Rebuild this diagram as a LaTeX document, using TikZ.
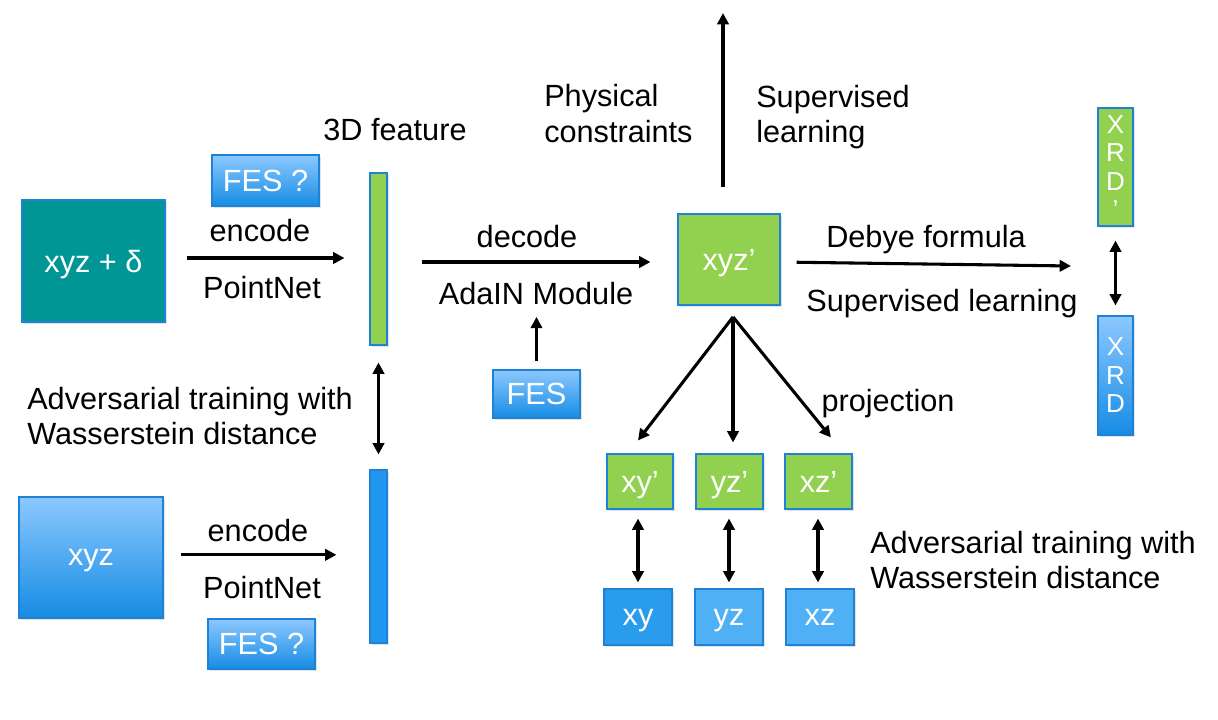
\documentclass[tikz,border=0pt]{standalone}
\usepackage{fontspec}
\setmainfont{Liberation Sans}
\usetikzlibrary{arrows.meta,shadows}
\definecolor{tealbox}{RGB}{0,150,150}
\definecolor{featgreen}{RGB}{146,208,80}
\definecolor{bluetop}{RGB}{140,200,255}
\definecolor{bluebot}{RGB}{22,140,228}
\definecolor{barblue}{RGB}{33,150,240}
\definecolor{solidblue}{RGB}{42,156,236}
\definecolor{lightblue}{RGB}{80,176,245}
\definecolor{boxedge}{RGB}{30,130,215}
\begin{document}
\begin{tikzpicture}[x=0.75pt,y=-0.75pt,
  box/.style={draw=boxedge, line width=0.8pt, inner sep=0pt, text=white, text depth=0pt,
    font=\fontsize{23}{26}\selectfont,
    drop shadow={shadow xshift=1.2pt,shadow yshift=-1.5pt,opacity=0.22}},
  grad/.style={box, top color=bluetop, bottom color=bluebot},
  greenbox/.style={box, fill=featgreen},
  sz/.style 2 args={minimum width=#1*0.75pt, minimum height=#2*0.75pt},
  vtext/.style={align=center, font=\fontsize{19.5}{21.4}\selectfont},
  lbl/.style={font=\fontsize{23}{26.5}\selectfont, inner sep=0pt},
  arr/.style={-{Triangle[length=8.5pt,width=8.5pt]}, line width=2.3pt},
  darr/.style={{Triangle[length=8.5pt,width=8.5pt]}-{Triangle[length=8.5pt,width=8.5pt]}, line width=2.3pt}
]
\useasboundingbox (0,0) rectangle (1218,720);

% boxes
\node[box, fill=tealbox, sz={143}{122}] (src) at (93.5,261) {xyz + δ};
\node[grad, sz={107}{51}] (fes1) at (265.5,180.5) {FES ?};
\node[greenbox, sz={17}{172}] (feat1) at (378.5,259) {};
\node[box, fill=barblue, sz={17}{173}] (feat2) at (378.5,556.5) {};
\node[grad, sz={144}{121}] (real) at (91,557.5) {xyz};
\node[grad, sz={107}{50}] (fes2) at (261.5,644) {FES ?};
\node[grad, sz={87}{48}] (fes3) at (536.5,394) {FES};
\node[greenbox, sz={102}{91}] (gen) at (729,259.5) {xyz’};
\node[greenbox, sz={35}{118}, vtext] (xrdp) at (1115.5,167) {X\\R\\D\\’};
\node[grad, sz={35}{119}, vtext] (xrd) at (1115.5,375.5) {X\\R\\D};
\node[greenbox, sz={66}{55}] (xyp) at (640,481.5) {xy’};
\node[greenbox, sz={67}{55}] (yzp) at (729.5,481.5) {yz’};
\node[greenbox, sz={67}{55}] (xzp) at (818.5,481.5) {xz’};
\node[box, fill=solidblue, sz={68}{56}] (xy) at (638,617) {xy};
\node[box, fill=lightblue, sz={68}{56}] (yz) at (729,617) {yz};
\node[box, fill=lightblue, sz={68}{56}] (xz) at (820,617) {xz};

% labels
\node[lbl] (feat) at (395,130) {3D feature};
\node[lbl] (enc1) at (260,231) {encode};
\node[lbl] (pn1) at (262,288) {PointNet};
\node[lbl] (enc2) at (258,531) {encode};
\node[lbl] (pn2) at (262,588) {PointNet};
\node[lbl, align=left, anchor=west] (adv1) at (27,416) {Adversarial training with\\Wasserstein distance};
\node[lbl] (dec) at (527,237) {decode};
\node[lbl] (adain) at (536,294) {AdaIN Module};
\node[lbl, align=left, anchor=west] (phys) at (544,113.5) {Physical\\constraints};
\node[lbl, align=left, anchor=west] (sup1) at (756,117) {Supervised\\learning};
\node[lbl] (debye) at (926,240) {Debye formula};
\node[lbl] (sup2) at (942,304) {Supervised learning};
\node[lbl] (proj) at (888,404) {projection};
\node[lbl, align=left, anchor=west] (adv2) at (870,560) {Adversarial training with\\Wasserstein distance};

% free ends
\coordinate (topEnd) at (723,13);
\coordinate (debyeEnd) at (1071,266);
\coordinate (projS) at (733,317);

% connectors
\draw[arr, shorten <=15.75pt, shorten >=18.75pt] ([yshift=2.25pt]src.east) -- ([yshift=2.25pt]src.east -| feat1.west);
\draw[arr, shorten <=12.75pt, shorten >=24.75pt] ([yshift=2pt]real.east) -- ([yshift=2pt]real.east -| feat2.west);
\draw[arr, shorten <=25.5pt, shorten >=20.25pt] ([yshift=-2.25pt]feat1.east) -- ([yshift=-2.25pt]feat1.east -| gen.west);
\draw[arr, shorten <=12pt] ([yshift=-1.9pt]gen.east) -- (debyeEnd);
\draw[arr, shorten <=19.5pt] (gen.north -| topEnd) -- (topEnd);
\draw[arr, shorten <=6pt, shorten >=8.5pt] (fes3.north) -- (fes3.north |- adain.south);
\draw[darr, shorten <=12.75pt, shorten >=11.25pt] (feat1.south) -- (feat2.north);
\draw[darr, shorten <=10.5pt, shorten >=7.5pt] (xrdp.south) -- (xrd.north);
\draw[arr, shorten >=12.3pt] (projS) -- ([xshift=-9pt]xyp.north);
\draw[arr, shorten >=8.25pt] (projS) -- (projS |- yzp.north);
\draw[arr, shorten >=15.5pt] (projS) -- ([xshift=19.1pt]xzp.north);
\draw[darr, shorten <=6.75pt, shorten >=4.5pt] (xy.north |- xyp.south) -- (xy.north);
\draw[darr, shorten <=6.75pt, shorten >=4.5pt] (yz.north |- yzp.south) -- (yz.north);
\draw[darr, shorten <=6.75pt, shorten >=4.5pt] ([xshift=-1.5pt]xz.north |- xzp.south) -- ([xshift=-1.5pt]xz.north);
\end{tikzpicture}
\end{document}
